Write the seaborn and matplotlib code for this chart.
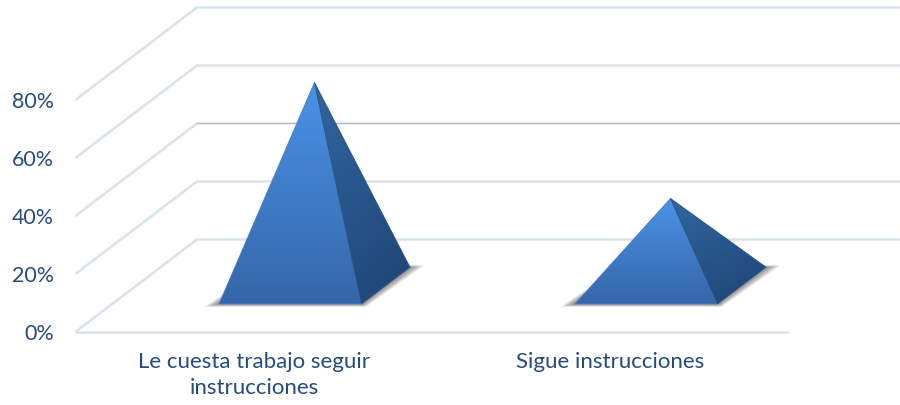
# Excel style 3D pyramid chart: share of children by how they follow instructions

import numpy as np
import pandas as pd
import seaborn as sns
import matplotlib.pyplot as plt
from matplotlib.colors import LinearSegmentedColormap
from matplotlib.patches import Polygon

categories = ["Le cuesta trabajo seguir\ninstrucciones", "Sigue instrucciones"]
values = [70, 30]
tick_values = [0, 20, 40, 60, 80]
tick_labels = ["0%", "20%", "40%", "60%", "80%"]

TEXT_COLOR = "#264B7E"
GRID_COLOR = "#DAE2EC"

# figure size in pixels and where the front floor line sits
FIG_W, FIG_H = 900, 406
LEFT_PX, FLOOR_PX = 76, 332.5
CAT_PX = 356.0   # width of one category
PCT_PX = 2.9     # pixels per percent

# the oblique offset of the back wall, in data units
DEPTH_X = 121 / CAT_PX
DEPTH_Y = 92 / PCT_PX
BAR_SIZE = 0.4   # pyramid base as a share of the category / of the depth

sns.set_theme(style="white")
plt.rcParams["font.family"] = ["Lato", "DejaVu Sans"]

fig = plt.figure(figsize=(FIG_W / 100, FIG_H / 100), dpi=100)
ax = fig.add_axes([LEFT_PX / FIG_W, (FIG_H - FLOOR_PX) / FIG_H,
                   (FIG_W - LEFT_PX) / FIG_W, FLOOR_PX / FIG_H])
x_min = -0.5
x_max = x_min + (FIG_W - LEFT_PX) / CAT_PX
x_floor = x_min + len(categories)
y_max = FLOOR_PX / PCT_PX
ax.set_xlim(x_min, x_max)
ax.set_ylim(0, y_max)
ax.set_autoscale_on(False)


# side wall and back wall lines, one polyline for each tick
rows = []
for tick in tick_values:
    rows.append({"line": tick, "x": x_min, "y": tick})
    rows.append({"line": tick, "x": x_min + DEPTH_X, "y": tick + DEPTH_Y})
    rows.append({"line": tick, "x": x_max, "y": tick + DEPTH_Y})
rows.append({"line": -1, "x": x_min, "y": 0})
rows.append({"line": -1, "x": x_floor, "y": 0})
grid = pd.DataFrame(rows)

sns.lineplot(data=grid, x="x", y="y", units="line", estimator=None, sort=False,
             color=GRID_COLOR, linewidth=1.8, ax=ax, legend=False, zorder=1)
for line in ax.lines:
    line.set_clip_on(False)

# the 40% back line has a darker edge in the original
ax.plot([x_min + DEPTH_X, x_max], [40 + DEPTH_Y + 0.25] * 2,
        color="#B4BBC5", linewidth=0.7, zorder=1)


# fill a polygon with a vertical (and a bit diagonal) gradient
def gradient_face(points, top, bottom, tilt=0.0, zorder=3):
    cmap = LinearSegmentedColormap.from_list("face", [top, bottom])
    xs = [p[0] for p in points]
    ys = [p[1] for p in points]
    yy, xx = np.mgrid[0:1:200j, 0:1:200j]
    shade = (yy + tilt * xx) / (1 + tilt)
    patch = Polygon(points, closed=True, transform=ax.transData,
                    facecolor="none", edgecolor="none")
    ax.add_patch(patch)
    im = ax.imshow(shade, cmap=cmap, vmin=0, vmax=1, aspect="auto", origin="upper",
                   extent=(min(xs), max(xs), min(ys), max(ys)), zorder=zorder,
                   interpolation="bilinear")
    im.set_clip_path(patch)
    # thin outline to hide the rough edge of the clip
    ax.add_patch(Polygon(points, closed=True, fill=False, linewidth=0.6,
                         edgecolor=cmap(0.55), zorder=zorder))


# one pyramid, the base sits in the middle of the floor depth
def draw_pyramid(pos, value):
    half_x = BAR_SIZE / 2
    base_dx = DEPTH_X * BAR_SIZE / 2
    base_dy = DEPTH_Y * BAR_SIZE / 2
    cx = pos + DEPTH_X / 2
    cy = DEPTH_Y / 2

    front_left = (cx - half_x - base_dx, cy - base_dy)
    front_right = (cx + half_x - base_dx, cy - base_dy)
    back_right = (cx + half_x + base_dx, cy + base_dy)
    back_left = (cx - half_x + base_dx, cy + base_dy)
    apex = (cx, cy + value)

    # soft shadow on the floor, stacked see through layers
    for grow in np.linspace(0.04, 1, 14):
        sx = grow * 15 / CAT_PX
        sy = grow * 3 / PCT_PX
        shadow = [(front_left[0] - sx, front_left[1] - sy),
                  (front_right[0] + sx * 0.3, front_right[1] - sy),
                  (back_right[0] + sx, back_right[1] + sy * 0.6),
                  (back_left[0], back_left[1] + sy)]
        ax.add_patch(Polygon(shadow, closed=True, facecolor="#303030", edgecolor="none",
                             alpha=0.05, zorder=2))

    gradient_face([front_left, front_right, apex], "#4A93E8", "#3566A8")
    gradient_face([front_right, back_right, apex], "#30669F", "#1F4474", tilt=0.4)


for i, value in enumerate(values):
    draw_pyramid(i, value)

ax.set_xlim(x_min, x_max)
ax.set_ylim(0, y_max)

# axis text
ax.set_xticks(range(len(categories)))
ax.set_xticklabels(categories, linespacing=1.4)
ax.set_yticks(tick_values)
ax.set_yticklabels(tick_labels)
ax.tick_params(axis="x", length=0, pad=14, labelsize=16, labelcolor=TEXT_COLOR)
ax.tick_params(axis="y", length=0, pad=16, labelsize=15.4, labelcolor=TEXT_COLOR)
ax.set_xlabel("")
ax.set_ylabel("")
sns.despine(ax=ax, left=True, bottom=True)
ax.grid(False)

fig.savefig("out.png", dpi=100)
